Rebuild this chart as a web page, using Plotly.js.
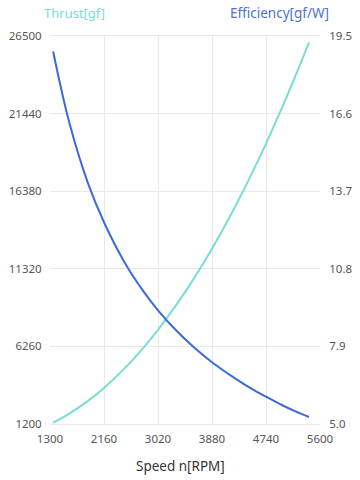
<!DOCTYPE html>
<html>
<head>
<meta charset="utf-8">
<script src="https://cdn.plot.ly/plotly-3.0.1.min.js"></script>
<style>html,body{margin:0;padding:0;background:#fff;}#chart{width:360px;height:480px;}</style>
</head>
<body>
<div id="chart"></div>
<script>
const speed = [1350, 1600, 1900, 2160, 2500, 2800, 3020, 3300, 3600, 3880, 4200, 4500, 4740, 5000, 5200, 5425];
const thrust = [1285, 1856, 2693, 3555, 4878, 6235, 7343, 8899, 10743, 12633, 14997, 17414, 19484, 21875, 23810, 26090];
const efficiency = [18.92, 16.33, 14.03, 12.54, 10.99, 9.92, 9.25, 8.52, 7.85, 7.31, 6.78, 6.33, 6.02, 5.70, 5.48, 5.26];
const xTicks = [1300, 2160, 3020, 3880, 4740, 5600];
const yTicks = [1200, 6260, 11320, 16380, 21440, 26500];
const y2Ticks = [5.0, 7.9, 10.8, 13.7, 16.6, 19.5];
const y2TickText = ['5.0', '7.9', '10.8', '13.7', '16.6', '19.5'];

const teal = '#79DDD5';
const blue = '#3D6AD6';
const fontFam = '"Noto Sans", "Open Sans", sans-serif';

const traces = [
  {x: speed, y: thrust, type: 'scatter', mode: 'lines', line: {color: teal, width: 2, shape: 'spline', smoothing: 1}, yaxis: 'y', hoverinfo: 'skip'},
  {x: speed, y: efficiency, type: 'scatter', mode: 'lines', line: {color: blue, width: 2, shape: 'spline', smoothing: 1}, yaxis: 'y2', hoverinfo: 'skip'}
];

const gridCol = '#e9e9e9';
const tickCol = '#555';
const layout = {
  width: 360, height: 480,
  margin: {l: 50, r: 40, t: 36, b: 56},
  paper_bgcolor: '#fff', plot_bgcolor: '#fff',
  showlegend: false,
  font: {family: fontFam, size: 11.5, color: tickCol},
  xaxis: {
    range: [1300, 5600], tickvals: xTicks, ticktext: xTicks.map(String),
    showgrid: true, gridcolor: gridCol, gridwidth: 1, zeroline: false,
    showline: true, linecolor: gridCol, mirror: true,
    ticks: 'outside', ticklen: 4, tickcolor: 'rgba(0,0,0,0)',
    tickfont: {size: 11.5, color: tickCol}
  },
  yaxis: {
    range: [1200, 26500], tickvals: yTicks, ticktext: yTicks.map(String),
    showgrid: true, gridcolor: gridCol, zeroline: false,
    ticks: 'outside', ticklen: 5, tickcolor: 'rgba(0,0,0,0)',
    tickfont: {size: 11.5, color: tickCol}
  },
  yaxis2: {
    range: [5.0, 19.5], tickvals: y2Ticks, ticktext: y2TickText,
    overlaying: 'y', side: 'right', showgrid: false, zeroline: false,
    ticks: 'outside', ticklen: 6, tickcolor: 'rgba(0,0,0,0)',
    tickfont: {size: 11.5, color: tickCol}
  },
  annotations: [
    {text: 'Thrust[gf]', xref: 'paper', yref: 'paper', x: -0.03, y: 1.0, yshift: 23, xanchor: 'left', yanchor: 'middle', showarrow: false, font: {size: 13, color: teal}},
    {text: 'Efficiency[gf/W]', xref: 'paper', yref: 'paper', x: 1.04, y: 1.0, yshift: 23, xanchor: 'right', yanchor: 'middle', showarrow: false, font: {size: 13.5, color: '#4A72D8'}},
    {text: 'Speed n[RPM]', xref: 'paper', yref: 'paper', x: 0.485, y: -0.108, xanchor: 'center', yanchor: 'middle', showarrow: false, font: {size: 13.5, color: '#333'}}
  ]
};

Plotly.newPlot('chart', traces, layout, {displayModeBar: false, staticPlot: true});
</script>
</body>
</html>
